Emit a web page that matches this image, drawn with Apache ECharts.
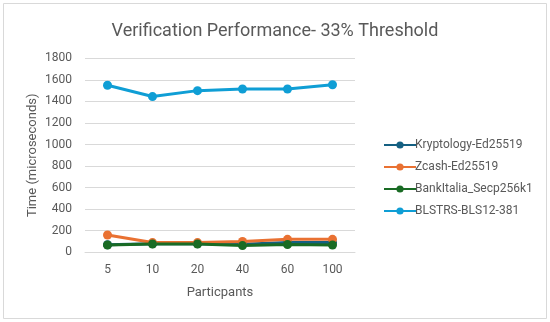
<!DOCTYPE html>
<html><head><meta charset="utf-8">
<script src="https://cdn.jsdelivr.net/npm/echarts@6/dist/echarts.min.js"></script>
<style>html,body{margin:0;padding:0;background:#fff}#c{width:550px;height:322px}</style>
</head><body><div id="c"></div>
<script>
const categories = ['5','10','20','40','60','100'];
const kryptology = [70, 80, 80, 75, 90, 90];
const zcash = [160, 90, 90, 100, 120, 120];
const bankItalia = [68, 77, 77, 62, 72, 68];
const blstrs = [1550, 1445, 1500, 1515, 1515, 1555];
const yTicks = [0, 200, 400, 600, 800, 1000, 1200, 1400, 1600, 1800];

const font = 'Roboto';
const txt = '#595959';
function s(name, data, color) {
  return {name, type:'line', data, symbol:'circle', symbolSize:9,
    lineStyle:{color, width:3}, itemStyle:{color}, emphasis:{disabled:true}};
}
const chart = echarts.init(document.getElementById('c'));
chart.setOption({
  animation:false,
  textStyle:{fontFamily:font},
  graphic:[{type:'rect', shape:{x:3.5,y:3.5,width:543,height:315}, style:{fill:'none', stroke:'#d9d9d9', lineWidth:1}}],
  title:{text:'Verification Performance- 33% Threshold', left:'center', top:17,
    textStyle:{fontFamily:font, fontSize:18, fontWeight:'normal', color:txt}},
  grid:{left:85, right:195, top:58.3, bottom:69.7},
  legend:{orient:'vertical', left:378, top:134, itemGap:10, itemWidth:32, itemHeight:9,
    textStyle:{fontFamily:font, fontSize:12, color:txt, padding:[0,0,0,-6]},
    data:['Kryptology-Ed25519','Zcash-Ed25519','BankItalia_Secp256k1','BLSTRS-BLS12-381']},
  xAxis:{type:'category', data:categories, boundaryGap:true,
    name:'Particpants', nameLocation:'middle', nameGap:34,
    nameTextStyle:{fontFamily:font, fontSize:13, color:txt},
    axisLine:{lineStyle:{color:'#d9d9d9'}}, axisTick:{show:false},
    axisLabel:{fontFamily:font, fontSize:12, color:txt, margin:12}},
  yAxis:{type:'value', min:yTicks[0], max:yTicks[yTicks.length-1], interval:200,
    name:'Time (microseconds)', nameLocation:'middle', nameGap:46,
    nameTextStyle:{fontFamily:font, fontSize:13, color:txt},
    axisLine:{show:false}, axisTick:{show:false},
    splitLine:{lineStyle:{color:'#d9d9d9'}},
    axisLabel:{fontFamily:font, fontSize:12, color:txt, margin:13, formatter:v=>String(v)}},
  series:[
    s('Kryptology-Ed25519', kryptology, '#156082'),
    s('Zcash-Ed25519', zcash, '#E97132'),
    s('BankItalia_Secp256k1', bankItalia, '#196B24'),
    s('BLSTRS-BLS12-381', blstrs, '#0F9ED5')
  ]
});
</script></body></html>
